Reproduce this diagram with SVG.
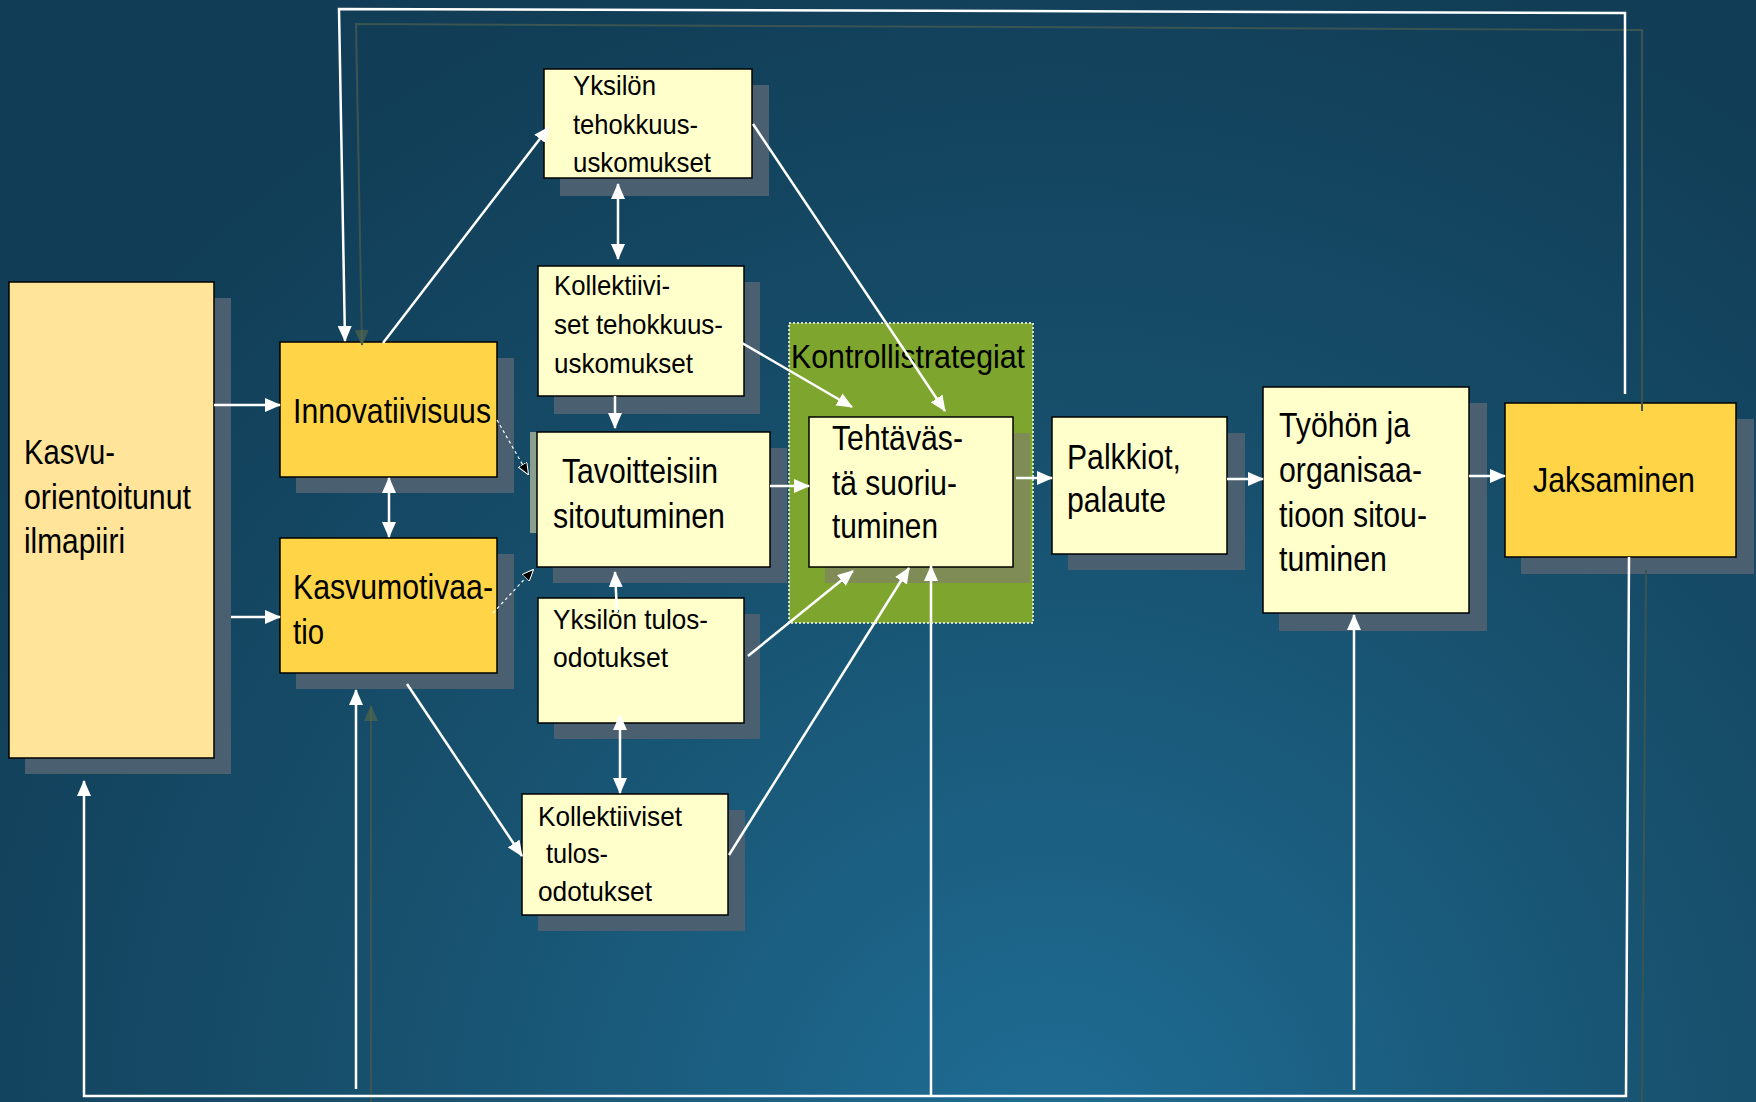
<svg xmlns="http://www.w3.org/2000/svg" width="1756" height="1102" viewBox="0 0 1756 1102">
<defs>
<radialGradient id="bg" cx="1050" cy="1150" r="1250" gradientUnits="userSpaceOnUse">
<stop offset="0" stop-color="#1f6d95"/>
<stop offset="0.55" stop-color="#17506d"/>
<stop offset="1" stop-color="#113d56"/>
</radialGradient>
<marker id="aw" viewBox="0 0 16 14" refX="15" refY="7" markerWidth="16" markerHeight="14" markerUnits="userSpaceOnUse" orient="auto-start-reverse">
<path d="M0,0 L16,7 L0,14 z" fill="#ffffff"/>
</marker>
<marker id="ad" viewBox="0 0 16 14" refX="15" refY="7" markerWidth="16" markerHeight="14" markerUnits="userSpaceOnUse" orient="auto">
<path d="M0,0 L16,7 L0,14 z" fill="#5a6a4a" fill-opacity="0.6"/>
</marker>
<marker id="ab" viewBox="0 0 12 10" refX="11" refY="5" markerWidth="12" markerHeight="10" markerUnits="userSpaceOnUse" orient="auto">
<path d="M0,0 L12,5 L0,10 z" fill="#000000" stroke="#ffffff" stroke-width="1"/>
</marker>
</defs>
<style>
.sh{fill:#4a6070}
.box{stroke:#000;stroke-width:1.5}
.ly{fill:#ffffcc}
.gd{fill:#ffd447}
.pe{fill:#ffe499}
.t{font-family:"Liberation Sans",Arial,sans-serif;fill:#000}
.L{font-size:35px}
.S{font-size:28px}
.c{fill:none;stroke:#ffffff;stroke-width:2.5}
.cd{fill:none;stroke:#3a5552;stroke-width:2}
.dash{fill:none;stroke:#ffffff;stroke-width:1.2;stroke-dasharray:3 3}
</style>
<rect x="0" y="0" width="1756" height="1102" fill="url(#bg)"/>

<g id="kasvu">
<rect class="sh" x="25" y="298" width="206" height="476"/>
<rect class="box pe" x="9" y="282" width="205" height="476"/>
<text class="t L" x="24" y="464" textLength="91" lengthAdjust="spacingAndGlyphs">Kasvu-</text>
<text class="t L" x="24" y="509" textLength="167" lengthAdjust="spacingAndGlyphs">orientoitunut</text>
<text class="t L" x="24" y="553" textLength="101" lengthAdjust="spacingAndGlyphs">ilmapiiri</text>
</g>

<g id="innovatiivisuus">
<rect class="sh" x="296" y="358" width="218" height="135"/>
<rect class="box gd" x="280" y="342" width="217" height="135"/>
<text class="t L" x="293" y="423" textLength="198" lengthAdjust="spacingAndGlyphs">Innovatiivisuus</text>
</g>

<g id="kasvumotivaatio">
<rect class="sh" x="296" y="554" width="218" height="135"/>
<rect class="box gd" x="280" y="538" width="217" height="135"/>
<text class="t L" x="293" y="599" textLength="200" lengthAdjust="spacingAndGlyphs">Kasvumotivaa-</text>
<text class="t L" x="293" y="644" textLength="31" lengthAdjust="spacingAndGlyphs">tio</text>
</g>

<g id="yksilon-tehokkuus">
<rect class="sh" x="560" y="85" width="209" height="111"/>
<rect class="box ly" x="544" y="69" width="208" height="109"/>
<text class="t S" x="573" y="95" textLength="83" lengthAdjust="spacingAndGlyphs">Yksilön</text>
<text class="t S" x="573" y="134" textLength="125" lengthAdjust="spacingAndGlyphs">tehokkuus-</text>
<text class="t S" x="573" y="172" textLength="138" lengthAdjust="spacingAndGlyphs">uskomukset</text>
</g>

<g id="kollektiiviset-tehokkuus">
<rect class="sh" x="554" y="282" width="206" height="132"/>
<rect class="box ly" x="538" y="266" width="206" height="130"/>
<text class="t S" x="554" y="295" textLength="116" lengthAdjust="spacingAndGlyphs">Kollektiivi-</text>
<text class="t S" x="554" y="334" textLength="169" lengthAdjust="spacingAndGlyphs">set tehokkuus-</text>
<text class="t S" x="554" y="373" textLength="139" lengthAdjust="spacingAndGlyphs">uskomukset</text>
</g>

<g id="tavoitteisiin">
<rect class="sh" x="553" y="448" width="234" height="135"/>
<rect x="530" y="432" width="8" height="101" fill="#8aa08e"/>
<rect class="box ly" x="537" y="432" width="233" height="135"/>
<text class="t L" x="562" y="483" textLength="156" lengthAdjust="spacingAndGlyphs">Tavoitteisiin</text>
<text class="t L" x="553" y="528" textLength="172" lengthAdjust="spacingAndGlyphs">sitoutuminen</text>
</g>

<g id="yksilon-tulos">
<rect class="sh" x="554" y="614" width="206" height="125"/>
<rect class="box ly" x="538" y="598" width="206" height="125"/>
<text class="t S" x="553" y="629" textLength="155" lengthAdjust="spacingAndGlyphs">Yksilön tulos-</text>
<text class="t S" x="553" y="667" textLength="115" lengthAdjust="spacingAndGlyphs">odotukset</text>
</g>

<g id="kollektiiviset-tulos">
<rect class="sh" x="538" y="810" width="207" height="121"/>
<rect class="box ly" x="522" y="794" width="206" height="121"/>
<text class="t S" x="538" y="826" textLength="144" lengthAdjust="spacingAndGlyphs">Kollektiiviset</text>
<text class="t S" x="546" y="863" textLength="62" lengthAdjust="spacingAndGlyphs">tulos-</text>
<text class="t S" x="538" y="901" textLength="114" lengthAdjust="spacingAndGlyphs">odotukset</text>
</g>

<g id="kontrollistrategiat">
<rect x="789" y="323" width="244" height="300" fill="#7ea62e" stroke="#ffffff" stroke-width="1.5" stroke-dasharray="2 2"/>
<text class="t" font-size="33" x="791" y="368" textLength="234" lengthAdjust="spacingAndGlyphs">Kontrollistrategiat</text>
<rect x="825" y="433" width="205" height="150" fill="#7f8c55"/>
</g>

<g id="tehtavasta">
<rect class="box ly" x="809" y="417" width="204" height="150"/>
<text class="t L" x="832" y="450" textLength="131" lengthAdjust="spacingAndGlyphs">Tehtäväs-</text>
<text class="t L" x="832" y="495" textLength="125" lengthAdjust="spacingAndGlyphs">tä suoriu-</text>
<text class="t L" x="832" y="538" textLength="106" lengthAdjust="spacingAndGlyphs">tuminen</text>
</g>

<g id="palkkiot">
<rect class="sh" x="1068" y="433" width="177" height="137"/>
<rect class="box ly" x="1052" y="417" width="175" height="137"/>
<text class="t L" x="1067" y="469" textLength="114" lengthAdjust="spacingAndGlyphs">Palkkiot,</text>
<text class="t L" x="1067" y="512" textLength="99" lengthAdjust="spacingAndGlyphs">palaute</text>
</g>

<g id="tyohon">
<rect class="sh" x="1279" y="403" width="208" height="228"/>
<rect class="box ly" x="1263" y="387" width="206" height="226"/>
<text class="t L" x="1279" y="437" textLength="131" lengthAdjust="spacingAndGlyphs">Työhön ja</text>
<text class="t L" x="1279" y="482" textLength="143" lengthAdjust="spacingAndGlyphs">organisaa-</text>
<text class="t L" x="1279" y="527" textLength="148" lengthAdjust="spacingAndGlyphs">tioon sitou-</text>
<text class="t L" x="1279" y="571" textLength="108" lengthAdjust="spacingAndGlyphs">tuminen</text>
</g>

<g id="jaksaminen">
<rect class="sh" x="1521" y="419" width="233" height="155"/>
<rect class="box gd" x="1505" y="403" width="231" height="154"/>
<text class="t L" x="1533" y="492" textLength="162" lengthAdjust="spacingAndGlyphs">Jaksaminen</text>
</g>

<g id="connectors">
<polyline class="cd" points="1642,411 1642,30 356,24 362,345" marker-end="url(#ad)"/>
<line class="cd" x1="1646" y1="570" x2="1642" y2="1102"/>
<line class="cd" x1="371" y1="1102" x2="371" y2="706" marker-end="url(#ad)"/>

<line class="c" x1="214" y1="405" x2="280" y2="405" marker-end="url(#aw)"/>
<line class="c" x1="231" y1="617" x2="280" y2="617" marker-end="url(#aw)"/>
<line class="c" x1="389" y1="478" x2="389" y2="537" marker-start="url(#aw)" marker-end="url(#aw)"/>
<line class="c" x1="383" y1="343" x2="549" y2="127" marker-end="url(#aw)"/>
<line class="c" x1="618" y1="184" x2="618" y2="259" marker-start="url(#aw)" marker-end="url(#aw)"/>
<line class="c" x1="615" y1="396" x2="615" y2="428" marker-end="url(#aw)"/>
<line class="c" x1="617" y1="612" x2="615" y2="572" marker-end="url(#aw)"/>
<line class="c" x1="620" y1="715" x2="620" y2="793" marker-start="url(#aw)" marker-end="url(#aw)"/>
<line class="c" x1="407" y1="684" x2="522" y2="856" marker-end="url(#aw)"/>
<line class="c" x1="770" y1="486" x2="809" y2="486" marker-end="url(#aw)"/>
<line class="c" x1="742" y1="343" x2="852" y2="407" marker-end="url(#aw)"/>
<line class="c" x1="753" y1="124" x2="945" y2="411" marker-end="url(#aw)"/>
<line class="c" x1="748" y1="656" x2="853" y2="571" marker-end="url(#aw)"/>
<line class="c" x1="729" y1="855" x2="909" y2="568" marker-end="url(#aw)"/>
<line class="c" x1="1016" y1="478" x2="1052" y2="478" marker-end="url(#aw)"/>
<line class="c" x1="1227" y1="479" x2="1263" y2="479" marker-end="url(#aw)"/>
<line class="c" x1="1469" y1="476" x2="1505" y2="476" marker-end="url(#aw)"/>

<polyline class="c" points="1625,394 1625,13 339,9 345,341" marker-end="url(#aw)"/>
<polyline class="c" points="1629,557 1626,1096 84,1096 84,781" marker-end="url(#aw)"/>
<line class="c" x1="356" y1="1089" x2="356" y2="690" marker-end="url(#aw)"/>
<line class="c" x1="931" y1="1096" x2="931" y2="566" marker-end="url(#aw)"/>
<line class="c" x1="1354" y1="1090" x2="1354" y2="615" marker-end="url(#aw)"/>

<line class="dash" x1="497" y1="420" x2="528" y2="474" marker-end="url(#ab)"/>
<line class="dash" x1="493" y1="613" x2="533" y2="570" marker-end="url(#ab)"/>
</g>
</svg>
